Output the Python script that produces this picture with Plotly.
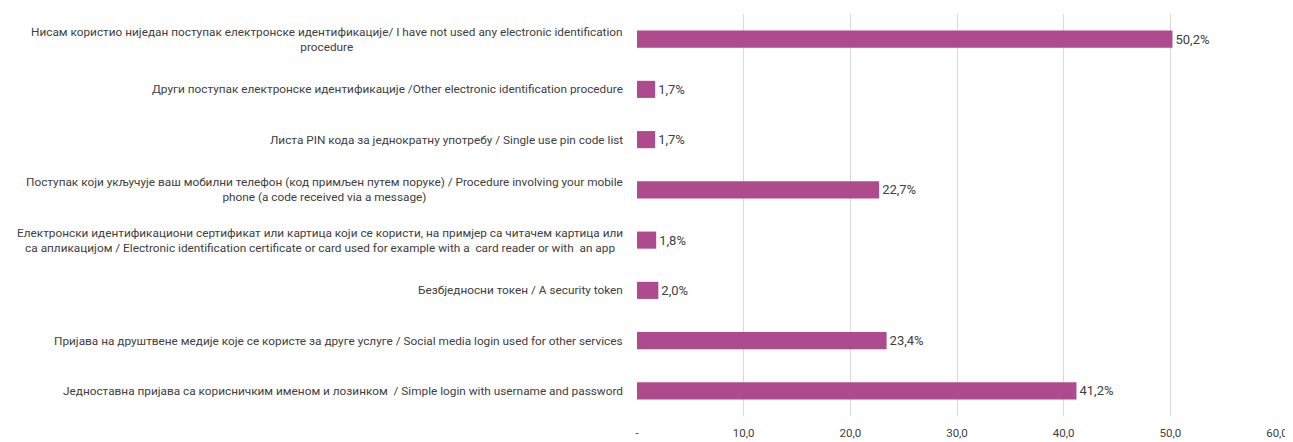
import plotly.graph_objects as go

categories = [
    "Нисам користио ниједан поступак електронске идентификације/ I have not used any electronic identification<br>procedure",
    "Други поступак електронске идентификације /Other electronic identification procedure",
    "Листа PIN кода за једнократну употребу / Single use pin code list",
    "Поступак који укључује ваш мобилни телефон (код примљен путем поруке) / Procedure involving your mobile<br>phone (a code received via a message)",
    "Електронски идентификациони сертификат или картица који се користи, на примјер са читачем картица или<br>са апликацијом / Electronic identification certificate or card used for example with a  card reader or with  an app",
    "Безбједносни токен / A security token",
    "Пријава на друштвене медије које се користе за друге услуге / Social media login used for other services",
    "Једноставна пријава са корисничким именом и лозинком  / Simple login with username and password",
]
values = [50.2, 1.7, 1.7, 22.7, 1.8, 2.0, 23.4, 41.2]
value_labels = ["50,2%", "1,7%", "1,7%", "22,7%", "1,8%", "2,0%", "23,4%", "41,2%"]
tick_vals = [0, 10, 20, 30, 40, 50, 60]
tick_text = ["-", "10,0", "20,0", "30,0", "40,0", "50,0", "60,0"]

FONT = "Roboto, Arial, sans-serif"
ids = list(range(len(categories)))

fig = go.Figure(go.Bar(
    x=values, y=ids, orientation="h",
    marker=dict(color="#AD4B8E", line=dict(color="#ffffff", width=0)),
    width=0.34,
    text=value_labels, textposition="outside", cliponaxis=False,
    textfont=dict(family=FONT, size=13, color="#404040"),
))

for i, c in zip(ids, categories):
    fig.add_annotation(
        x=0, xref="paper", y=i, yref="y", text=c, showarrow=False,
        xanchor="right", align="center", xshift=-12,
        font=dict(family=FONT, size=11.8, color="#404040"),
    )

fig.update_layout(
    width=1285, height=434,
    margin=dict(l=629, r=16, t=6, b=26, autoexpand=False),
    paper_bgcolor="white", plot_bgcolor="white",
    showlegend=False,
    font=dict(family=FONT, size=13, color="#404040"),
    xaxis=dict(range=[0, 60], tickvals=tick_vals, ticktext=tick_text,
               showgrid=True, gridcolor="#d9d9d9", gridwidth=1,
               zeroline=False, showline=False, automargin=False,
               ticks="outside", ticklen=6, tickcolor="white",
               tickfont=dict(family=FONT, size=11.5, color="#404040")),
    yaxis=dict(range=[7.5, -0.5], showticklabels=False, showgrid=False,
               zeroline=False, showline=False, automargin=False),
)

fig.write_html("out.html")
